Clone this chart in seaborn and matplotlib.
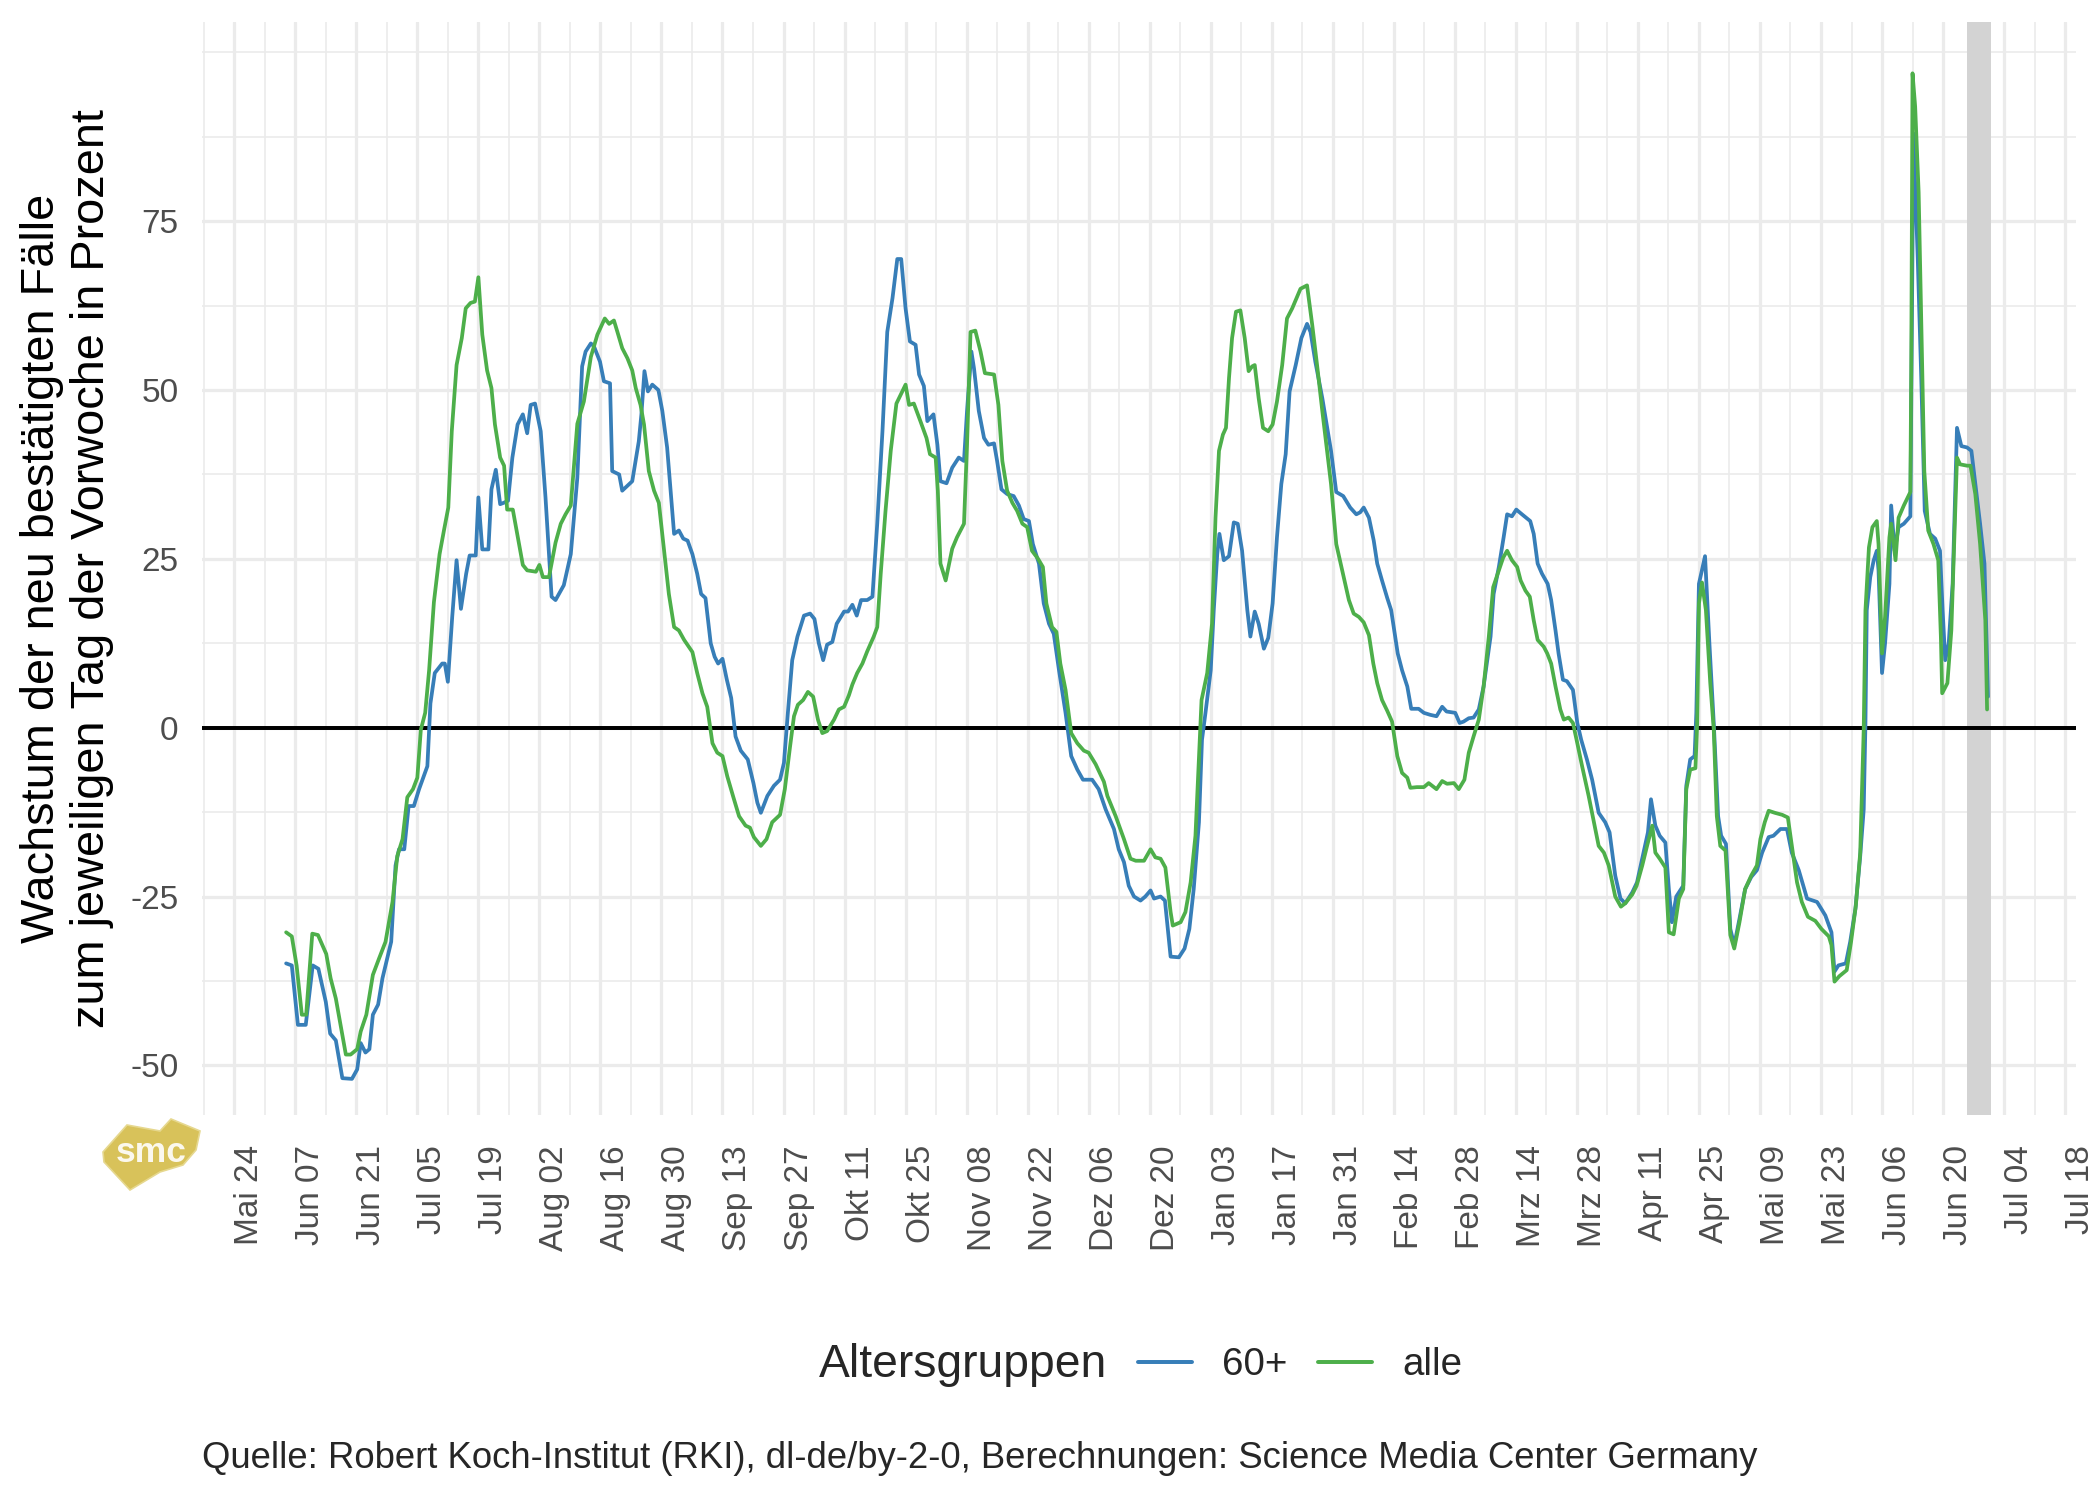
import pandas as pd
import matplotlib
matplotlib.use("Agg")
import matplotlib.pyplot as plt
from matplotlib.patches import Polygon
import seaborn as sns

# Bezugsdatum: alle Tage werden ab dem 24.05.2020 gezählt
START = pd.Timestamp("2020-05-24")

# Altersgruppe 60+ (Tag, Wachstum in Prozent)
tage_60 = [11.9, 13.2, 14.6, 16.4, 18.0, 19.3, 21.0, 22.0, 23.3, 24.8, 27.0, 28.2, 29.0, 30.1, 31.0, 31.8,
           33.0, 34.0, 36.0, 37.0, 37.8, 39.0, 40.0, 41.2, 42.4, 44.3, 45.0, 46.0, 47.7, 48.3, 49.0, 50.0,
           51.0, 52.0, 53.2, 54.0, 55.4, 56.0, 56.9, 58.3, 59.0, 60.0, 61.0, 61.8, 62.8, 63.8, 65.0, 66.2,
           67.2, 68.0, 69.0, 70.3, 71.4, 72.8, 73.7, 75.6, 77.2, 78.7, 79.8, 80.6, 81.8, 82.5, 83.9, 84.8,
           86.2, 86.7, 88.3, 89.0, 91.3, 92.8, 93.4, 94.1, 94.9, 95.9, 97.3, 98.2, 99.3, 100.9, 102.0, 103.0,
           104.0, 105.1, 106.2, 107.1, 108.1, 109.3, 110.2, 111.0, 112.0, 113.0, 114.0, 115.0, 116.2, 117.8,
           119.1, 120.0, 120.8, 122.3, 123.8, 125.2, 126.1, 127.0, 128.0, 129.2, 130.7, 132.1, 133.1, 134.1,
           135.1, 136.0, 137.2, 138.2, 139.9, 140.8, 141.8, 142.8, 143.8, 145.2, 146.4, 147.5, 148.7, 149.8,
           151.0, 152.1, 153.0, 154.0, 155.0, 156.3, 157.1, 158.2, 159.0, 160.4, 161.3, 162.0, 163.4, 164.7,
           166.2, 167.4, 168.1, 169.1, 169.7, 170.8, 172.0, 173.0, 174.3, 175.0, 176.0, 177.3, 178.8, 180.0,
           181.1, 182.3, 183.2, 184.6, 185.7, 186.9, 188.0, 189.2, 190.7, 192.0, 193.4, 194.7, 196.8, 198.3,
           199.9, 201.8, 202.9, 204.1, 205.2, 206.4, 207.9, 209.0, 210.2, 211.0, 212.5, 213.5, 214.8, 216.7,
           218.0, 219.1, 220.1, 221.3, 222.0, 222.8, 224.0, 224.7, 225.5, 226.0, 227.0, 228.2, 229.3, 230.2,
           231.2, 232.4, 233.1, 234.1, 235.0, 236.2, 237.2, 238.2, 239.2, 240.2, 241.2, 242.1, 243.5, 244.8,
           246.1, 246.9, 248.0, 249.6, 250.7, 251.6, 252.8, 254.4, 256.0, 257.4, 258.3, 259.1, 260.3, 261.4,
           262.2, 263.3, 264.5, 265.4, 266.1, 266.9, 267.9, 269.1, 270.0, 271.7, 272.9, 274.4, 275.8, 277.1,
           278.1, 280.1, 281.1, 282.0, 283.2, 284.3, 285.5, 286.6, 288.2, 288.9, 290.1, 291.2, 292.0, 293.1,
           294.1, 295.4, 297.3, 298.1, 299.0, 300.0, 301.3, 302.1, 303.1, 303.8, 304.8, 305.7, 307.1, 308.1,
           309.0, 310.3, 311.5, 313.0, 314.5, 315.5, 316.8, 318.0, 319.1, 320.7, 321.8, 323.3, 324.3, 325.0,
           326.0, 327.0, 328.3, 329.1, 329.8, 330.8, 332.4, 333.1, 334.0, 335.0, 335.4, 336.0, 337.4, 338.4,
           339.4, 340.4, 341.1, 342.2, 343.2, 344.1, 345.3, 346.6, 348.0, 349.3, 350.5, 352.0, 353.1, 354.7,
           356.2, 357.3, 358.9, 360.8, 363.1, 365.0, 366.4, 367.1, 368.0, 369.7, 370.7, 371.9, 373.0, 373.8,
           374.2, 374.5, 375.3, 376.1, 376.8, 377.2, 378.0, 378.7, 379.7, 380.1, 380.9, 381.8, 383.0, 384.5,
           385.2, 386.2, 387.0, 387.8, 389.0, 390.2, 391.3, 391.9, 392.5, 393.3, 394.2, 395.2, 396.2, 397.5,
           398.5, 399.4, 400.5, 401.5, 402.0, 402.3]
wert_60 = [-34.9, -35.2, -44.0, -44.0, -35.2, -35.7, -40.6, -45.3, -46.3, -51.9, -52.0, -50.6, -46.7, -48.1,
           -47.6, -42.5, -41.0, -37.1, -31.7, -20.4, -18.0, -18.0, -11.6, -11.6, -9.1, -5.7, 3.6, 8.1, 9.5,
           9.5, 6.8, 16.4, 24.8, 17.6, 22.8, 25.5, 25.5, 34.1, 26.4, 26.4, 35.3, 38.2, 33.1, 33.3, 33.6, 40.0,
           44.9, 46.4, 43.6, 47.8, 48.0, 43.9, 34.1, 19.4, 18.9, 21.1, 25.7, 37.0, 53.5, 55.7, 56.9, 56.5,
           54.2, 51.3, 51.0, 38.0, 37.5, 35.1, 36.5, 42.4, 46.4, 52.8, 49.8, 50.8, 50.0, 46.9, 41.5, 28.7,
           29.2, 28.0, 27.7, 25.7, 22.8, 19.8, 19.2, 12.5, 10.5, 9.5, 10.2, 7.1, 4.4, -1.3, -3.4, -4.7, -8.2,
           -11.1, -12.6, -10.1, -8.6, -7.7, -5.2, 2.2, 10.0, 13.5, 16.6, 16.9, 16.1, 12.5, 10.0, 12.3, 12.7,
           15.4, 17.2, 17.2, 18.2, 16.6, 18.9, 18.9, 19.4, 30.2, 43.9, 58.6, 63.6, 69.4, 69.4, 62.1, 57.2,
           56.7, 52.3, 50.6, 45.4, 46.4, 41.9, 36.5, 36.2, 38.5, 40.0, 39.5, 46.9, 55.7, 53.2, 46.9, 42.9,
           41.9, 42.1, 39.5, 35.3, 34.6, 34.3, 32.9, 30.9, 30.6, 27.2, 24.3, 18.4, 15.4, 13.9, 8.5, 2.2, -4.2,
           -6.2, -7.7, -7.7, -9.1, -12.1, -15.0, -18.0, -19.9, -23.4, -25.0, -25.6, -25.0, -24.1, -25.3,
           -25.0, -25.6, -33.9, -34.0, -32.7, -29.8, -23.9, -14.0, -1.8, 2.2, 8.5, 17.4, 25.7, 28.7, 24.8,
           25.4, 30.4, 30.2, 26.2, 17.4, 13.5, 17.2, 15.4, 11.7, 13.3, 18.4, 28.2, 36.1, 40.5, 49.8, 53.7,
           57.7, 59.8, 58.6, 54.2, 48.8, 44.5, 41.0, 34.9, 34.3, 32.6, 31.6, 31.9, 32.6, 31.1, 27.7, 24.3,
           21.8, 19.2, 17.4, 14.4, 11.0, 8.5, 6.1, 2.8, 2.8, 2.2, 1.9, 1.7, 3.1, 2.4, 2.2, 0.7, 0.9, 1.4, 1.5,
           2.7, 6.1, 13.5, 19.8, 23.8, 28.2, 31.6, 31.3, 32.3, 31.6, 30.6, 28.7, 24.3, 22.8, 21.3, 18.9, 14.4,
           11.0, 7.1, 6.9, 5.6, 0.7, -1.8, -4.7, -7.7, -12.6, -14.0, -15.5, -21.9, -25.3, -26.0, -24.4, -22.9,
           -18.5, -15.5, -10.6, -14.5, -16.0, -17.0, -23.9, -28.8, -25.0, -23.4, -8.6, -4.7, -4.2, 2.2, 21.3,
           25.4, 12.5, 0.7, -13.1, -16.0, -17.2, -29.8, -32.2, -28.3, -23.9, -22.1, -21.1, -18.5, -16.2,
           -16.0, -15.0, -15.0, -18.5, -21.1, -25.3, -25.8, -27.8, -30.3, -36.1, -35.2, -34.9, -31.7, -26.8,
           -19.0, -12.1, 0.7, 17.4, 22.3, 24.8, 26.2, 23.3, 8.1, 12.5, 21.3, 32.9, 26.2, 29.7, 30.2, 31.3,
           88.0, 69.4, 51.8, 32.1, 28.7, 28.0, 26.2, 17.4, 10.0, 12.5, 21.3, 44.4, 41.7, 41.5, 41.0, 36.1,
           30.2, 24.3, 12.5, 4.6]

# alle Altersgruppen
tage_alle = [11.9, 13.2, 14.3, 15.5, 16.5, 17.9, 19.2, 21.1, 22.1, 23.3, 25.6, 26.7, 28.2, 29.0, 30.3, 31.8,
             33.2, 34.7, 36.3, 37.4, 38.6, 39.7, 41.0, 42.0, 42.8, 43.8, 44.7, 45.8, 47.1, 48.1, 49.1, 49.9,
             51.0, 52.2, 53.1, 54.2, 55.2, 56.0, 56.9, 58.0, 59.0, 59.8, 61.0, 61.9, 62.6, 63.9, 65.2, 66.2,
             67.2, 69.2, 70.0, 70.8, 72.2, 73.7, 74.9, 76.0, 77.2, 78.7, 80.2, 81.8, 83.3, 85.0, 86.0, 87.1,
             87.9, 89.0, 90.2, 91.3, 92.1, 93.2, 94.0, 95.1, 96.3, 97.4, 98.6, 99.7, 100.9, 102.0, 103.2, 105.1,
             106.2, 107.4, 108.5, 109.7, 110.8, 112.0, 113.1, 114.5, 115.8, 117.3, 118.3, 119.2, 120.8, 122.1,
             123.4, 125.2, 126.3, 127.5, 128.4, 129.3, 130.5, 131.6, 132.8, 133.9, 134.9, 136.0, 137.6, 138.7,
             139.9, 141.0, 141.8, 142.9, 144.1, 145.2, 146.7, 147.5, 148.3, 149.4, 150.6, 151.9, 154.0, 154.8,
             155.9, 157.4, 158.8, 159.6, 160.9, 161.4, 162.0, 163.2, 164.7, 165.8, 167.4, 168.1, 168.9, 170.0,
             171.2, 172.2, 174.3, 175.3, 176.2, 177.3, 178.5, 179.6, 180.8, 181.9, 183.0, 184.4, 185.5, 186.3,
             187.6, 188.6, 189.5, 190.7, 192.0, 193.4, 194.9, 196.0, 197.6, 199.5, 200.3, 202.2, 204.1, 205.6,
             206.8, 208.7, 210.2, 211.3, 212.5, 213.6, 214.8, 215.3, 217.1, 218.2, 219.4, 220.5, 221.9, 223.2,
             224.3, 225.1, 225.9, 226.8, 227.5, 228.2, 228.9, 229.8, 230.8, 231.8, 232.7, 233.5, 234.1, 235.0,
             236.0, 237.2, 238.2, 239.2, 240.4, 241.5, 242.7, 244.6, 246.1, 247.3, 248.4, 249.6, 250.7, 251.6,
             252.8, 254.1, 255.7, 256.8, 258.0, 259.1, 260.3, 261.3, 262.2, 263.3, 264.5, 265.6, 266.8, 267.9,
             269.1, 269.8, 271.3, 272.9, 274.0, 275.8, 277.1, 278.2, 279.8, 280.9, 282.2, 283.2, 284.3, 285.5,
             286.6, 287.8, 288.8, 290.1, 291.1, 292.0, 293.1, 294.3, 295.1, 296.2, 297.2, 298.1, 299.0, 300.4,
             301.2, 302.1, 303.1, 304.2, 305.0, 306.1, 307.1, 308.1, 309.2, 310.7, 311.9, 313.0, 314.2, 315.3,
             316.8, 318.1, 319.1, 320.7, 321.7, 323.0, 324.1, 325.3, 326.0, 327.0, 328.3, 329.1, 330.2, 331.4,
             332.4, 333.1, 334.0, 335.2, 335.6, 336.0, 336.7, 337.6, 338.6, 339.4, 340.1, 340.9, 342.1, 343.2,
             344.1, 345.3, 346.6, 348.0, 349.3, 350.1, 351.1, 352.0, 353.4, 355.1, 356.4, 357.2, 358.5, 359.6,
             361.0, 362.7, 364.1, 365.8, 366.4, 367.1, 368.2, 369.9, 370.9, 372.0, 373.0, 373.8, 374.2, 375.0,
             375.8, 376.8, 377.2, 378.0, 378.7, 379.7, 380.1, 381.1, 381.8, 383.0, 384.5, 384.7, 385.0, 385.6,
             386.4, 387.1, 387.7, 388.6, 389.8, 390.9, 391.5, 391.8, 393.0, 393.9, 395.2, 395.9, 397.5, 398.3,
             399.4, 400.5, 401.7, 402.1]
wert_alle = [-30.3, -30.9, -35.2, -42.5, -42.5, -30.5, -30.7, -33.5, -37.1, -40.1, -48.4, -48.4, -47.6, -45.0,
             -42.5, -36.6, -34.2, -31.7, -25.8, -19.0, -16.5, -10.3, -9.1, -7.4, -0.3, 2.2, 8.5, 18.6, 25.7,
             29.2, 32.6, 43.9, 53.7, 57.7, 62.1, 62.9, 63.1, 66.7, 58.2, 52.9, 50.3, 44.9, 40.0, 38.8, 32.3,
             32.3, 27.7, 24.1, 23.3, 23.1, 24.1, 22.3, 22.3, 27.4, 30.2, 31.6, 32.9, 45.0, 48.3, 54.9, 58.2,
             60.6, 59.8, 60.3, 58.6, 56.2, 54.7, 52.9, 50.3, 47.8, 44.9, 38.0, 35.1, 33.3, 26.2, 19.8, 14.9,
             14.4, 13.0, 11.2, 8.1, 5.1, 3.1, -2.3, -3.7, -4.2, -7.2, -10.3, -13.1, -14.5, -14.8, -16.2, -17.5,
             -16.5, -14.0, -12.9, -9.1, -2.8, 1.7, 3.4, 4.1, 5.3, 4.6, 1.2, -0.8, -0.5, 1.2, 2.7, 3.1, 4.8, 6.4,
             8.1, 9.5, 11.3, 13.5, 14.9, 22.8, 32.1, 41.0, 48.0, 50.8, 47.8, 48.0, 45.4, 42.9, 40.5, 40.0, 35.1,
             24.3, 21.8, 26.5, 28.2, 30.2, 41.9, 58.6, 58.8, 55.7, 52.5, 52.3, 47.8, 39.5, 35.1, 33.3, 32.1,
             30.2, 29.7, 26.2, 25.0, 23.8, 18.4, 14.9, 14.2, 9.5, 5.6, -0.8, -2.3, -3.4, -3.7, -5.4, -8.0,
             -10.1, -13.1, -16.5, -19.4, -19.7, -19.7, -18.0, -19.2, -19.4, -20.7, -27.3, -29.3, -28.8, -27.3,
             -22.9, -16.0, 4.1, 8.1, 15.4, 31.1, 41.0, 43.4, 44.4, 51.8, 57.7, 61.6, 61.8, 57.7, 52.8, 53.5,
             53.7, 48.8, 44.4, 43.9, 44.9, 48.3, 53.7, 60.6, 62.1, 65.0, 65.5, 59.6, 53.7, 46.9, 41.0, 36.1,
             27.2, 23.5, 18.9, 16.9, 16.4, 15.6, 13.7, 9.5, 6.6, 4.1, 2.5, 0.9, -4.2, -6.7, -7.4, -8.9, -8.8,
             -8.8, -8.2, -9.1, -7.9, -8.3, -8.2, -9.1, -7.7, -3.7, -1.3, 1.2, 6.1, 13.5, 20.8, 23.3, 25.2, 26.2,
             24.8, 23.8, 21.8, 20.3, 19.4, 15.9, 13.0, 12.0, 11.0, 9.5, 6.1, 2.7, 1.2, 1.5, 0.7, -2.3, -5.7,
             -10.1, -14.0, -17.5, -18.5, -20.4, -25.0, -26.5, -26.0, -24.7, -23.4, -20.4, -17.5, -14.5, -18.5,
             -19.4, -20.7, -30.3, -30.6, -25.3, -23.9, -9.1, -6.2, -6.0, 0.7, 18.4, 21.5, 17.4, 6.6, -0.3,
             -13.1, -17.5, -18.2, -30.7, -32.7, -28.8, -23.9, -21.9, -20.4, -16.5, -14.0, -12.3, -12.6, -12.9,
             -13.3, -17.0, -22.9, -25.8, -28.0, -28.6, -29.8, -30.9, -32.2, -37.6, -36.8, -35.9, -31.7, -26.3,
             -18.5, -0.3, 17.4, 26.7, 29.7, 30.6, 27.2, 11.0, 16.4, 28.2, 30.2, 24.8, 31.1, 32.9, 34.9, 52.8,
             96.9, 92.0, 79.3, 56.7, 38.0, 29.2, 27.2, 24.8, 13.5, 5.1, 6.6, 14.4, 40.0, 39.0, 38.8, 38.8,
             34.6, 27.2, 15.9, 2.7]

gruppen = ["60+", "alle"]
farben = ["#377EB8", "#4DAF4A"]

# Achsenbeschriftungen
x_tick_labels = ["Mai 24", "Jun 07", "Jun 21", "Jul 05", "Jul 19", "Aug 02", "Aug 16", "Aug 30",
                 "Sep 13", "Sep 27", "Okt 11", "Okt 25", "Nov 08", "Nov 22", "Dez 06", "Dez 20",
                 "Jan 03", "Jan 17", "Jan 31", "Feb 14", "Feb 28", "Mrz 14", "Mrz 28", "Apr 11",
                 "Apr 25", "Mai 09", "Mai 23", "Jun 06", "Jun 20", "Jul 04", "Jul 18"]
y_ticks = [-50, -25, 0, 25, 50, 75]
y_minor = [-37.5, -12.5, 12.5, 37.5, 62.5, 87.5, 100]

# grau hinterlegter Zeitraum (unvollständige Meldungen), in Tagen ab START
band_tage = [397.5, 402.9]

y_titel = "Wachstum der neu bestätigten Fälle\nzum jeweiligen Tag der Vorwoche in Prozent"
quelle = "Quelle: Robert Koch-Institut (RKI), dl-de/by-2-0, Berechnungen: Science Media Center Germany"

# Daten in ein langes DataFrame bringen
df = pd.concat([
    pd.DataFrame({"datum": START + pd.to_timedelta(tage_60, unit="D"), "wert": wert_60, "Altersgruppen": "60+"}),
    pd.DataFrame({"datum": START + pd.to_timedelta(tage_alle, unit="D"), "wert": wert_alle, "Altersgruppen": "alle"}),
], ignore_index=True)

sns.set_style("white")
plt.rcParams["font.family"] = ["Liberation Sans", "DejaVu Sans"]
plt.rcParams["axes.unicode_minus"] = False

W, H = 2100, 1499
fig = plt.figure(figsize=(W / 150, H / 150), dpi=150)
ax = fig.add_axes([202 / W, 1 - 1115 / H, 1874 / W, 1093 / H])

sns.lineplot(data=df, x="datum", y="wert", hue="Altersgruppen", hue_order=gruppen,
             palette=dict(zip(gruppen, farben)), estimator=None, linewidth=1.8, ax=ax, zorder=5)

# Raster wie in ggplot theme_minimal
major_x = [START + pd.Timedelta(days=14 * i) for i in range(len(x_tick_labels))]
minor_x = [START + pd.Timedelta(days=14 * i - 7) for i in range(len(x_tick_labels))]
ax.set_xticks(major_x)
ax.set_xticks(minor_x, minor=True)
ax.set_xticklabels(x_tick_labels, rotation=90, ha="left", va="top")
ax.set_yticks(y_ticks)
ax.set_yticks(y_minor, minor=True)
ax.set_yticklabels([str(v) for v in y_ticks])
ax.grid(which="major", color="#EBEBEB", linewidth=1.55, zorder=0)
ax.grid(which="minor", color="#EBEBEB", linewidth=0.8, zorder=0)
ax.set_axisbelow(True)
ax.tick_params(axis="both", which="both", length=0, labelsize=16, labelcolor="#4D4D4D")
ax.tick_params(axis="x", pad=14.5)
ax.tick_params(axis="y", pad=11.2)
for s in ax.spines.values():
    s.set_visible(False)

ax.set_xlim(START + pd.Timedelta(days=-7.4), START + pd.Timedelta(days=422.5))
ax.set_ylim(-57.35, 104.5)

ax.axvspan(START + pd.Timedelta(days=band_tage[0]), START + pd.Timedelta(days=band_tage[1]),
           color="#D3D3D3", lw=0, zorder=2)
ax.axhline(0, color="black", linewidth=1.9, zorder=3)

ax.set_xlabel("")
ax.set_ylabel(y_titel, fontsize=22.5, color="black", linespacing=1.18)
ax.yaxis.label.set(ha="center", va="center", rotation_mode="anchor")
ax.yaxis.set_label_coords((67 - 202) / 1874, 0.5)

# Legende unten, Titel links daneben
handles, labels = ax.get_legend_handles_labels()
ax.get_legend().remove()
for h in handles:
    h.set_linewidth(1.9)
fig.legend(handles, labels, loc="center left", bbox_to_anchor=(1138 / W, 1 - 1365 / H), ncol=2,
           frameon=False, fontsize=18.5, handlelength=1.4, handletextpad=0.78, columnspacing=0.8,
           borderpad=0, borderaxespad=0)
fig.text(819 / W, 1 - 1365 / H, "Altersgruppen", fontsize=22.2, ha="left", va="center")

fig.text(202 / W, 1 - 1459 / H, quelle, fontsize=17.5, ha="left", va="center")

# SMC-Logo (vereinfachte Form)
logo_px = [(103, 1152), (127, 1125), (160, 1131), (171, 1119), (200, 1131), (196, 1150), (183, 1165),
           (160, 1172), (130, 1190), (117, 1176), (104, 1162)]
logo = Polygon([(x / W, 1 - y / H) for x, y in logo_px], closed=True, transform=fig.transFigure,
               facecolor="#D8C25A", edgecolor="#E6D88F", lw=0.8)
fig.patches.append(logo)
fig.text(151 / W, 1 - 1152 / H, "smc", fontsize=17, fontweight="bold", color="white",
         ha="center", va="center", alpha=0.9)

fig.savefig("out.png", dpi=150)
